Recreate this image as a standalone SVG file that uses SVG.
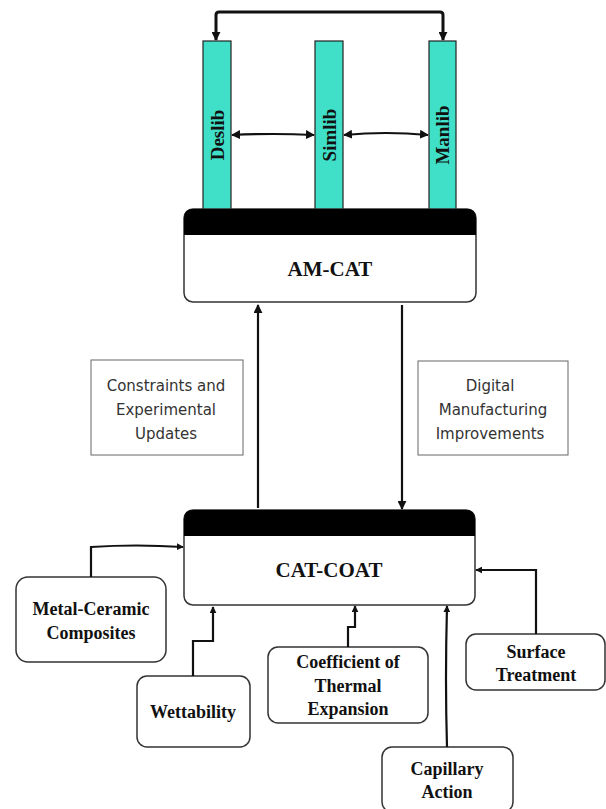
<svg xmlns="http://www.w3.org/2000/svg" width="606" height="809" viewBox="0 0 606 809">
<defs>
<style>
.bar{fill:#40e0c8;stroke:#222;stroke-width:1.2}
.bt{font-family:"Liberation Serif",serif;font-weight:bold;font-size:18px;fill:#111;text-anchor:middle}
.rt{font-family:"Liberation Serif",serif;font-weight:bold;font-size:19px;fill:#111;text-anchor:middle}
.mt{font-family:"Liberation Serif",serif;font-weight:bold;font-size:21px;fill:#111;text-anchor:middle}
.box{fill:#fff;stroke:#333;stroke-width:1.5}
.note{fill:#fff;stroke:#666;stroke-width:1}
.nt{font-family:"DejaVu Sans",sans-serif;font-size:15px;fill:#333;text-anchor:middle}
.c{fill:none;stroke:#111;stroke-width:2.2}
.ct{fill:none;stroke:#111;stroke-width:3}
</style>
<marker id="ah" viewBox="0 0 10 10" refX="9" refY="5" markerWidth="9" markerHeight="9" markerUnits="userSpaceOnUse" orient="auto-start-reverse">
<path d="M0,0 L10,5 L0,10 Z" fill="#111"/>
</marker>
<marker id="ahs" viewBox="0 0 10 10" refX="9" refY="5" markerWidth="7" markerHeight="7" markerUnits="userSpaceOnUse" orient="auto-start-reverse">
<path d="M0,0 L10,5 L0,10 Z" fill="#111"/>
</marker>
</defs>

<g id="deslib">
<rect class="bar" x="203" y="41" width="28" height="172"/>
<text class="rt" transform="translate(224,135) rotate(-90)">Deslib</text>
</g>
<g id="simlib">
<rect class="bar" x="315" y="41" width="28" height="172"/>
<text class="rt" transform="translate(336,135) rotate(-90)">Simlib</text>
</g>
<g id="manlib">
<rect class="bar" x="429" y="41" width="27" height="172"/>
<text class="rt" transform="translate(449,135) rotate(-90)">Manlib</text>
</g>

<g id="amcat">
<rect class="box" x="184" y="209" width="292" height="93" rx="9"/>
<path d="M184,235 V218 Q184,209 193,209 H467 Q476,209 476,218 V235 Z" fill="#000"/>
<text class="mt" x="330" y="276">AM-CAT</text>
</g>

<g id="constraints">
<rect class="note" x="91" y="360" width="152" height="95"/>
<text class="nt" x="166" y="391">Constraints and</text>
<text class="nt" x="166" y="415">Experimental</text>
<text class="nt" x="166" y="439">Updates</text>
</g>

<g id="digital">
<rect class="note" x="418" y="361" width="150" height="94"/>
<text class="nt" x="490" y="391">Digital</text>
<text class="nt" x="493" y="415">Manufacturing</text>
<text class="nt" x="490" y="439">Improvements</text>
</g>

<g id="catcoat">
<rect class="box" x="184" y="510" width="291" height="95" rx="9"/>
<path d="M184,536 V519 Q184,510 193,510 H466 Q475,510 475,519 V536 Z" fill="#000"/>
<text class="mt" x="329" y="577">CAT-COAT</text>
</g>

<g id="metal">
<rect class="box" x="16" y="577" width="150" height="85" rx="12"/>
<text class="bt" x="91" y="615">Metal-Ceramic</text>
<text class="bt" x="91" y="639">Composites</text>
</g>

<g id="wettability">
<rect class="box" x="137" y="676" width="113" height="71" rx="10"/>
<text class="bt" x="193" y="718">Wettability</text>
</g>

<g id="coefficient">
<rect class="box" x="268" y="647" width="160" height="76" rx="10"/>
<text class="bt" x="348" y="668">Coefficient of</text>
<text class="bt" x="348" y="692">Thermal</text>
<text class="bt" x="348" y="715">Expansion</text>
</g>

<g id="capillary">
<rect class="box" x="382" y="747" width="131" height="65" rx="10"/>
<text class="bt" x="447" y="775">Capillary</text>
<text class="bt" x="447" y="798">Action</text>
</g>

<g id="surface">
<rect class="box" x="466" y="634" width="139" height="56" rx="10"/>
<text class="bt" x="536" y="658">Surface</text>
<text class="bt" x="536" y="681">Treatment</text>
</g>

<g id="connectors">
<path class="ct" d="M216,40 V15 Q216,12 219,12 H440 Q443,12 443,15 V40" marker-start="url(#ah)" marker-end="url(#ah)"/>
<path class="c" d="M232,135 Q273,133 314,135" marker-start="url(#ah)" marker-end="url(#ah)"/>
<path class="c" d="M344,135 Q386,131 428,135" marker-start="url(#ah)" marker-end="url(#ah)"/>
<path class="c" d="M258,508 V305" marker-end="url(#ah)"/>
<path class="c" d="M402,305 V509" marker-end="url(#ah)"/>
<path class="c" d="M91,577 V547 Q136,544 183,547" marker-end="url(#ahs)"/>
<path class="c" d="M193,676 V641 H213 V607" marker-end="url(#ahs)"/>
<path class="c" d="M348,647 V627 H355 V606" marker-end="url(#ahs)"/>
<path class="c" d="M447,747 Q445,680 447,606" marker-end="url(#ahs)"/>
<path class="c" d="M536,634 V570 H476" marker-end="url(#ahs)"/>
</g>
</svg>
